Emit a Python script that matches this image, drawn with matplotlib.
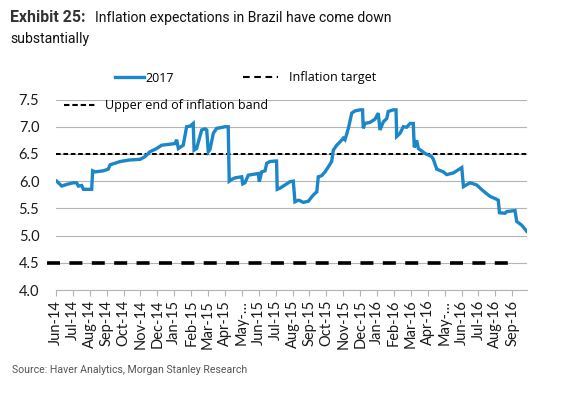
import matplotlib.pyplot as plt
from matplotlib.lines import Line2D

# months since Jun-14 (fractional) and 2017 inflation expectation (%)
months = [0.04, 0.34, 0.63, 1.02, 1.22, 1.32, 1.52, 1.62, 2.11, 2.17, 2.31, 2.80,
          3.09, 3.20, 3.79, 4.38, 4.97, 5.27, 5.56, 5.96, 6.25, 6.75, 7.04, 7.14,
          7.24, 7.53, 7.73, 7.93, 8.12, 8.17, 8.32, 8.62, 8.82, 8.92, 9.01, 9.11,
          9.31, 9.51, 9.70, 10.0, 10.19, 10.25, 10.39, 10.59, 10.79, 10.99, 11.05,
          11.18, 11.38, 11.78, 11.97, 12.03, 12.17, 12.37, 12.47, 12.66, 12.96,
          13.05, 13.09, 13.25, 13.55, 13.85, 14.04, 14.14, 14.34, 14.44, 14.63,
          14.93, 15.13, 15.33, 15.43, 15.52, 15.72, 15.92, 16.11, 16.31, 16.41,
          16.61, 16.80, 17.0, 17.1, 17.3, 17.5, 17.69, 17.99, 18.14, 18.18, 18.28,
          18.58, 18.88, 19.07, 19.17, 19.37, 19.57, 19.66, 19.96, 20.12, 20.16,
          20.36, 20.55, 20.75, 20.95, 21.14, 21.20, 21.34, 21.44, 21.83, 22.23,
          22.33, 22.53, 22.92, 23.12, 23.51, 24.01, 24.11, 24.50, 24.89, 25.28,
          25.68, 25.98, 26.17, 26.24, 26.57, 26.67, 27.16, 27.26, 27.56, 27.85]
exp2017 = [6.00, 5.91, 5.94, 5.97, 5.97, 5.91, 5.92, 5.85, 5.85, 6.19, 6.17, 6.19,
           6.22, 6.30, 6.36, 6.39, 6.40, 6.45, 6.54, 6.60, 6.66, 6.68, 6.69, 6.76,
           6.60, 6.66, 7.00, 7.01, 7.06, 6.57, 6.60, 6.94, 6.96, 6.94, 6.54, 6.58,
           6.88, 6.97, 6.98, 7.00, 7.00, 6.00, 6.03, 6.06, 6.07, 6.08, 5.95,
           5.97, 6.11, 6.13, 6.14, 5.99, 6.17, 6.19, 6.33, 6.36, 6.37,
           6.37, 5.85, 5.87, 5.93, 5.99, 6.00, 5.62, 5.65, 5.64, 5.61,
           5.63, 5.71, 5.78, 5.80, 6.08, 6.10, 6.17, 6.26, 6.36, 6.57,
           6.66, 6.72, 6.79, 6.76, 6.97, 7.25, 7.29, 7.31, 7.31, 6.97, 7.06,
           7.08, 7.14, 7.25, 6.94, 7.09, 7.15, 7.28, 7.31, 7.31, 6.82,
           6.88, 7.00, 6.99, 7.06, 7.06, 6.62, 6.75, 6.60, 6.51, 6.45,
           6.40, 6.22, 6.17, 6.12, 6.15, 6.25, 5.90, 5.97, 5.93, 5.82,
           5.72, 5.68, 5.65, 5.42, 5.41, 5.44, 5.46, 5.26, 5.19, 5.08]

upper_band = 6.5
target = 4.5

month_labels = ['Jun-14', 'Jul-14', 'Aug-14', 'Sep-14', 'Oct-14', 'Nov-14', 'Dec-14',
                'Jan-15', 'Feb-15', 'Mar-15', 'Apr-15', 'May-…', 'Jun-15', 'Jul-15',
                'Aug-15', 'Sep-15', 'Oct-15', 'Nov-15', 'Dec-15', 'Jan-16', 'Feb-16',
                'Mar-16', 'Apr-16', 'May-…', 'Jun-16', 'Jul-16', 'Aug-16', 'Sep-16']
yticks = [4.0, 4.5, 5.0, 5.5, 6.0, 6.5, 7.0, 7.5]

blue = '#1B86C8'
grid_c = '#b4b4b4'
tick_font = 'Lato'

fig = plt.figure(figsize=(5.71, 3.99), dpi=100)
ax = fig.add_axes([56 / 571, 1 - 290 / 399, 471 / 571, 190.5 / 399])

for y in yticks:
    ax.axhline(y, color=grid_c, lw=0.8, zorder=1)

ax.plot(months, exp2017, color=blue, lw=2.4, solid_joinstyle='miter', zorder=4)
ax.plot([0, 27.87], [upper_band, upper_band], color='black', lw=1.4,
        dashes=(2.4, 1.4), zorder=3, clip_on=False)
ax.plot([-0.55, 27.2], [target, target], color='black', lw=2.6,
        dashes=(3.6, 2.6), zorder=3, clip_on=False)

ax.set_xlim(0, 27.87)
ax.set_ylim(4.0, 7.5)
ax.set_xticks(range(len(month_labels)))
ax.set_xticklabels(month_labels, rotation=90, fontsize=10.5, family=tick_font,
                   color='#1a1a1a')
ax.set_yticks(yticks)
ax.set_yticklabels(['%.1f' % v for v in yticks], fontsize=10.5, family=tick_font,
                   color='#1a1a1a')
ax.tick_params(axis='y', length=0, pad=12)
ax.tick_params(axis='x', length=4, width=0.8, color=grid_c, direction='out', pad=3)
for s in ['top', 'right', 'left']:
    ax.spines[s].set_visible(False)
ax.spines['bottom'].set_color(grid_c)
ax.spines['bottom'].set_linewidth(0.8)

# legends
h_2017 = Line2D([], [], color=blue, lw=2.4)
h_target = Line2D([], [], color='black', lw=1.5, dashes=(3.2, 2.2))
h_upper = Line2D([], [], color='black', lw=1.5, dashes=(2.6, 1.4))
leg_kw = dict(frameon=False, borderpad=0, borderaxespad=0, loc='center left',
              prop={'family': 'Open Sans', 'size': 9})
fig.legend([h_2017], ['2017'], bbox_to_anchor=(115 / 571, 1 - 78 / 399),
           handlelength=2.3, handletextpad=0.1, **leg_kw)
fig.legend([h_target], ['Inflation target'], bbox_to_anchor=(243 / 571, 1 - 78 / 399),
           handlelength=2.8, handletextpad=0.85, **leg_kw)
fig.legend([h_upper], ['Upper end of inflation band'],
           bbox_to_anchor=(64 / 571, 1 - 106 / 399),
           handlelength=2.55, handletextpad=0.7, **leg_kw)

fig.text(10 / 571, 1 - 22 / 399, 'Exhibit 25:', fontsize=11.4, family='Roboto',
         weight='bold', color='#333333', va='baseline')
fig.text(95 / 571, 1 - 22 / 399, 'Inflation expectations in Brazil have come down',
         fontsize=10.1, family='Roboto', color='#111111', va='baseline')
fig.text(10 / 571, 1 - 43 / 399, 'substantially', fontsize=10.1, family='Roboto',
         color='#111111', va='baseline')
fig.text(12 / 571, 1 - 370 / 399, 'Source: Haver Analytics, Morgan Stanley Research',
         fontsize=7.6, family='Roboto', color='#555555', va='center')

fig.savefig('out.png', dpi=100)
